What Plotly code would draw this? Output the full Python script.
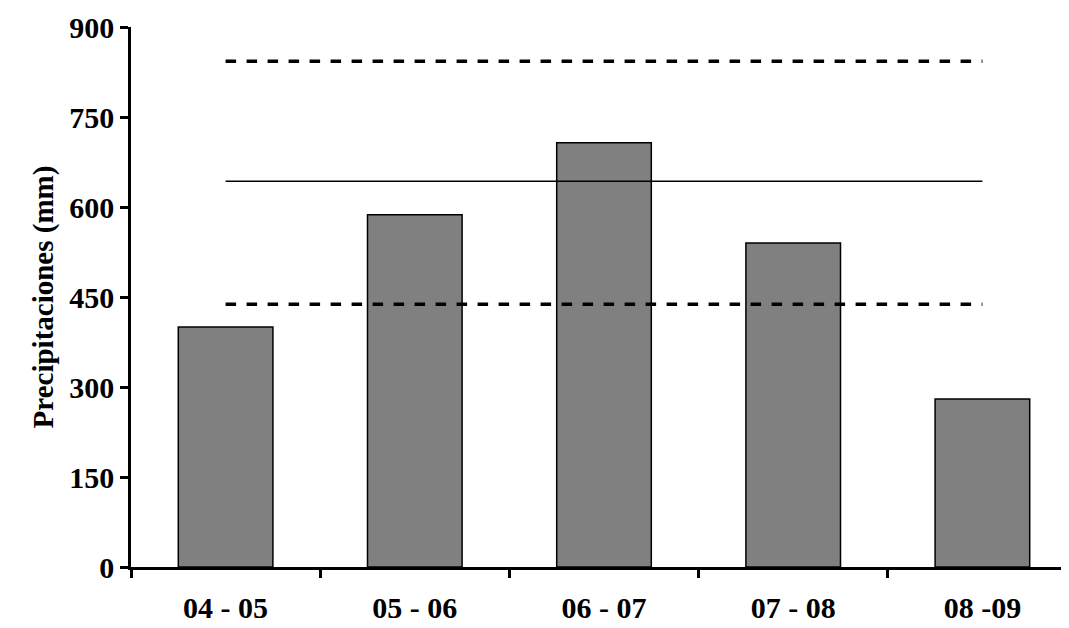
import plotly.graph_objects as go

# Seasons and rainfall totals (mm)
seasons = ["04 - 05", "05 - 06", "06 - 07", "07 - 08", "08 -09"]
rain = [400, 587, 707, 540, 280]

# Mean and the upper / lower reference levels
mean_level = 643
upper_level = 843
lower_level = 438

fig = go.Figure()
fig.add_trace(go.Bar(
    x=seasons, y=rain, width=0.5,
    marker=dict(color="#808080", line=dict(color="black", width=1.5)),
))
# Reference lines across the bars
for level, dash, w in [(mean_level, "solid", 1.5), (upper_level, "dash", 3.5), (lower_level, "dash", 3.5)]:
    fig.add_trace(go.Scatter(
        x=seasons, y=[level] * len(seasons), mode="lines",
        line=dict(color="black", dash=dash, width=w),
    ))

family = "Liberation Serif, Times New Roman, serif"
fig.update_layout(
    width=1069, height=628, showlegend=False,
    plot_bgcolor="white", paper_bgcolor="white",
    margin=dict(l=123, r=0, t=19, b=69),
)
fig.update_xaxes(
    type="category", range=[-0.5, 4.5], tickson="boundaries",
    ticks="outside", ticklen=8, tickwidth=2.5, tickcolor="black",
    showline=True, linecolor="black", linewidth=2.5, showgrid=False,
    ticklabelstandoff=12,
    tickfont=dict(family=family, size=30, color="black", weight="bold"),
)
fig.update_yaxes(
    range=[0, 900], tickvals=[0, 150, 300, 450, 600, 750, 900],
    ticks="outside", ticklen=8, tickwidth=2.5, tickcolor="black",
    showline=True, linecolor="black", linewidth=2.5, showgrid=False, zeroline=False,
    tickfont=dict(family=family, size=30, color="black", weight="bold"),
    title=dict(text="Precipitaciones (mm)", standoff=8,
               font=dict(family=family, size=29, color="black", weight="bold")),
)
fig.write_html("out.html")
